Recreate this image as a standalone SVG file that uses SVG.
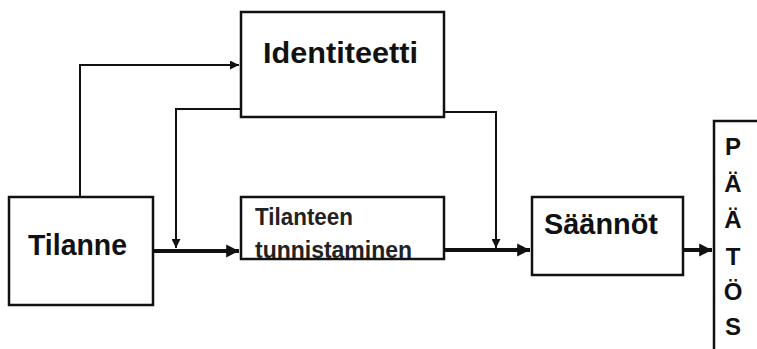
<svg xmlns="http://www.w3.org/2000/svg" width="757" height="349" viewBox="0 0 757 349">
<defs>
<style>
.box{fill:#fff;stroke:#111;stroke-width:2.5}
.big{font-family:"Liberation Sans",Arial,sans-serif;font-weight:bold;font-size:30px;fill:#111}
.mid{font-family:"Liberation Sans",Arial,sans-serif;font-weight:bold;font-size:23px;fill:#222}
.let{font-family:"Liberation Sans",Arial,sans-serif;font-weight:bold;font-size:24px;fill:#111;text-anchor:middle}
.thin{fill:none;stroke:#111;stroke-width:2}
.thick{fill:none;stroke:#111;stroke-width:4}
</style>
<marker id="ah" viewBox="0 0 10 10" refX="10" refY="5" markerWidth="5.5" markerHeight="4.5" markerUnits="strokeWidth" orient="auto">
<path d="M0,0 L10,5 L0,10 z" fill="#111"/>
</marker>
<marker id="ahb" viewBox="0 0 10 10" refX="10" refY="5" markerWidth="3.2" markerHeight="3.4" markerUnits="strokeWidth" orient="auto">
<path d="M0,0 L10,5 L0,10 z" fill="#111"/>
</marker>
</defs>
<rect width="757" height="349" fill="#fff"/>
<g id="connectors">
<path class="thin" d="M80,197 V65 H239" marker-end="url(#ah)"/>
<path class="thin" d="M241,109 H176 V248" marker-end="url(#ah)"/>
<path class="thin" d="M444,112 H496 V248" marker-end="url(#ah)"/>
<path class="thick" d="M153,251 H239" marker-end="url(#ahb)"/>
<path class="thick" d="M444,250 H530" marker-end="url(#ahb)"/>
<path class="thick" d="M683,250 H712" marker-end="url(#ahb)"/>
</g>
<g id="identiteetti">
<rect class="box" x="241" y="12" width="203" height="105"/>
<text class="big" x="263" y="63" textLength="155" lengthAdjust="spacingAndGlyphs">Identiteetti</text>
</g>
<g id="tilanne">
<rect class="box" x="9" y="197" width="144" height="108"/>
<text class="big" x="28" y="255" textLength="99" lengthAdjust="spacingAndGlyphs">Tilanne</text>
</g>
<g id="tunnistaminen">
<rect class="box" x="241" y="197" width="203" height="62"/>
<text class="mid" x="255" y="225" textLength="98" lengthAdjust="spacingAndGlyphs">Tilanteen</text>
<text class="mid" x="255" y="258" textLength="157" lengthAdjust="spacingAndGlyphs">tunnistaminen</text>
</g>
<g id="saannot">
<rect class="box" x="532" y="197" width="151" height="78"/>
<text class="big" x="544" y="234" textLength="114" lengthAdjust="spacingAndGlyphs">Säännöt</text>
</g>
<g id="paatos">
<rect class="box" x="714" y="121" width="60" height="250"/>
<text class="let" x="733" y="155">P</text>
<text class="let" x="733" y="192">Ä</text>
<text class="let" x="733" y="228">Ä</text>
<text class="let" x="733" y="265">T</text>
<text class="let" x="733" y="300">Ö</text>
<text class="let" x="733" y="335">S</text>
</g>
</svg>
